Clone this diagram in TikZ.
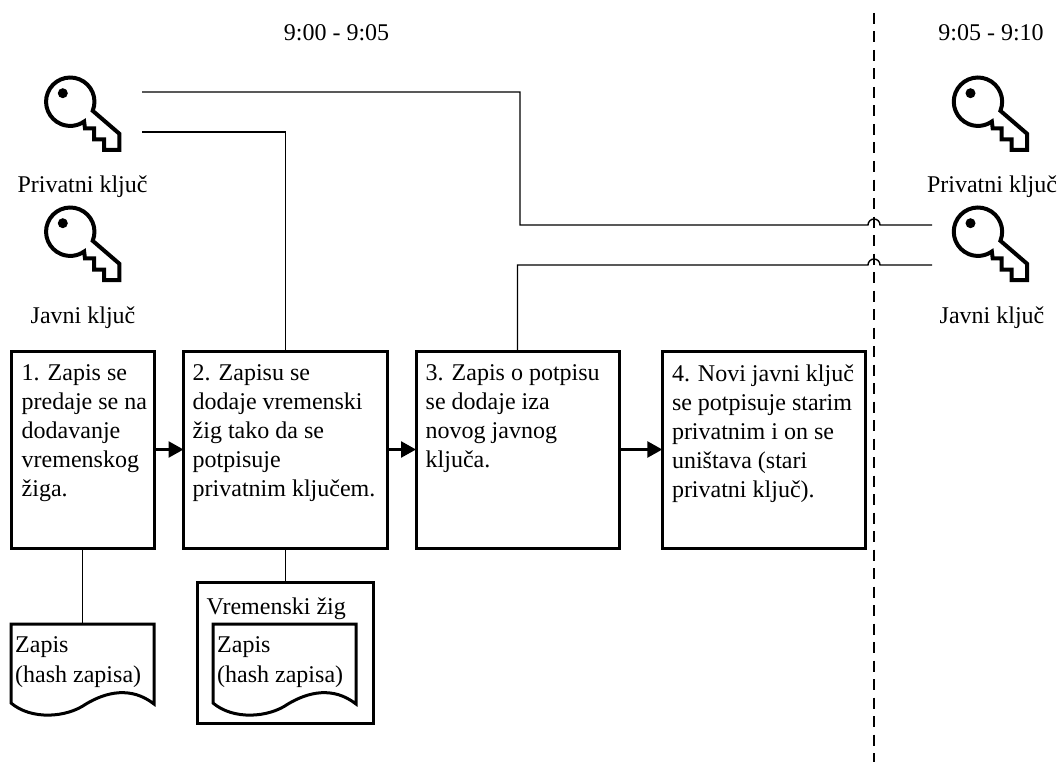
\documentclass[tikz,border=0pt]{standalone}
\usepackage{fontspec}
\setmainfont{Liberation Serif}
\usetikzlibrary{arrows.meta}
\tikzset{
  every node/.style={font=\fontsize{24}{29}\selectfont},
  thinln/.style={line width=1.4pt},
  boxln/.style={line width=3pt},
  stepbox/.style={draw,boxln,anchor=north west,inner sep=0pt,outer sep=0pt,minimum height=197pt,minimum width=#1},
  lbl/.style={inner sep=0pt},
  steptext/.style={inner sep=0pt,anchor=north west,align=left},
  doctext/.style={font=\fontsize{24}{30}\selectfont,inner sep=0pt,anchor=north west,align=left},
  docframe/.style={anchor=north west,inner sep=0pt,outer sep=0pt,minimum width=143pt,minimum height=90pt},
  arrowln/.style={line width=2.6pt,-{Triangle[length=15pt,width=16pt]}},
  pics/keyicon/.style={code={
    \draw[line width=4pt,miter limit=4] (22.4,9.07)
      arc[start angle=22,end angle=-305,radius=24.2]
      -- (14.7,26.7) -- (23.7,26.7) -- (23.7,37.8) -- (33.7,37.8) -- (33.7,48.3) -- (49,48.3) -- (49,32) -- cycle;
    \fill (-7.5,-8.5) circle[radius=5];
  }},
  pics/docshape/.style={code={
    \draw[boxln,line join=miter] (0,79) -- (0,0) -- (143,0) -- (143,80)
      .. controls (120,62) and (95,68) .. (75,80)
      .. controls (55,94) and (20,96) .. (0,79) -- cycle;
  }}
}
\begin{document}
\begin{tikzpicture}[x=1pt,y=-1pt]
\useasboundingbox (0,0) rectangle (1063,765);
% time labels
\node[lbl,anchor=base] (t1) at (336.5,41) {9:00 - 9:05};
\node[lbl,anchor=base] (t2) at (991,41) {9:05 - 9:10};
% keys
\pic at (70.3,101.7) {keyicon};
\pic at (70.3,231.7) {keyicon};
\pic at (978,101.7) {keyicon};
\pic at (978,231.7) {keyicon};
\node[lbl,anchor=base] (p1) at (82.5,192) {Privatni ključ};
\node[lbl,anchor=base] (j1) at (83,323) {Javni ključ};
\node[lbl,anchor=base] (p2) at (992,192) {Privatni ključ};
\node[lbl,anchor=base] (j2) at (992,323) {Javni ključ};
% steps
\node[stepbox=143.5pt] (b1) at (11,351) {};
\node[stepbox=203.5pt] (b2) at (183.5,351) {};
\node[stepbox=203pt] (b3) at (416,351) {};
\node[stepbox=203.5pt] (b4) at (662.3,351) {};
\node[steptext] (b1t) at ([shift={(10.5,13.5)}]b1.north west) {1. Zapis se\\predaje se na\\dodavanje\\vremenskog\\žiga.};
\node[steptext] (b2t) at ([shift={(9,13.5)}]b2.north west) {2. Zapisu se\\dodaje vremenski\\žig tako da se\\potpisuje\\privatnim ključem.};
\node[steptext] (b3t) at ([shift={(9.5,13.5)}]b3.north west) {3. Zapis o potpisu\\se dodaje iza\\novog javnog\\ključa.};
\node[steptext] (b4t) at ([shift={(9.5,13.5)}]b4.north west) {4. Novi javni ključ\\se potpisuje starim\\privatnim i on se\\uništava (stari\\privatni ključ).};
% documents
\node[draw,boxln,anchor=north west,outer sep=0pt,minimum width=176pt,minimum height=141pt] (vz) at (197,582) {};
\node[lbl,anchor=base west] (vzt) at (206.5,614) {Vremenski žig};
\pic at (11,624) {docshape};
\pic at (213,624) {docshape};
\node[docframe] (d1) at (11,624) {};
\node[docframe] (d2) at (213,624) {};
\node[doctext] (d1t) at (15,636) {Zapis\\(hash zapisa)};
\node[doctext] (d2t) at (217,636) {Zapis\\(hash zapisa)};
% free ends
\coordinate (k1a) at (142,92);
\coordinate (k1b) at (142,132);
\coordinate (k2a) at (932,225);
\coordinate (k2b) at (932,265);
\coordinate (dt) at (874,13);
\coordinate (db) at (874,762);
% connectors
\draw[thinln] (b1.south -| d1.north) -- (d1.north);
\draw[thinln] (b2.south) -- (b2.south |- vz.north);
\draw[thinln] (k1b) -| (b2.north);
\draw[thinln] (k1a) -| (520,225) -- (868,225) arc[start angle=180,end angle=360,radius=6] -- (k2a);
\draw[thinln] (b3.north) |- (868,265) arc[start angle=180,end angle=360,radius=6] -- (k2b);
\draw[thinln,dash pattern=on 11pt off 7.5pt] (dt) -- (db);
\draw[arrowln] (b1.east) -- (b2.west);
\draw[arrowln] (b2.east) -- (b3.west);
\draw[arrowln] (b3.east) -- (b4.west);
\end{tikzpicture}
\end{document}
